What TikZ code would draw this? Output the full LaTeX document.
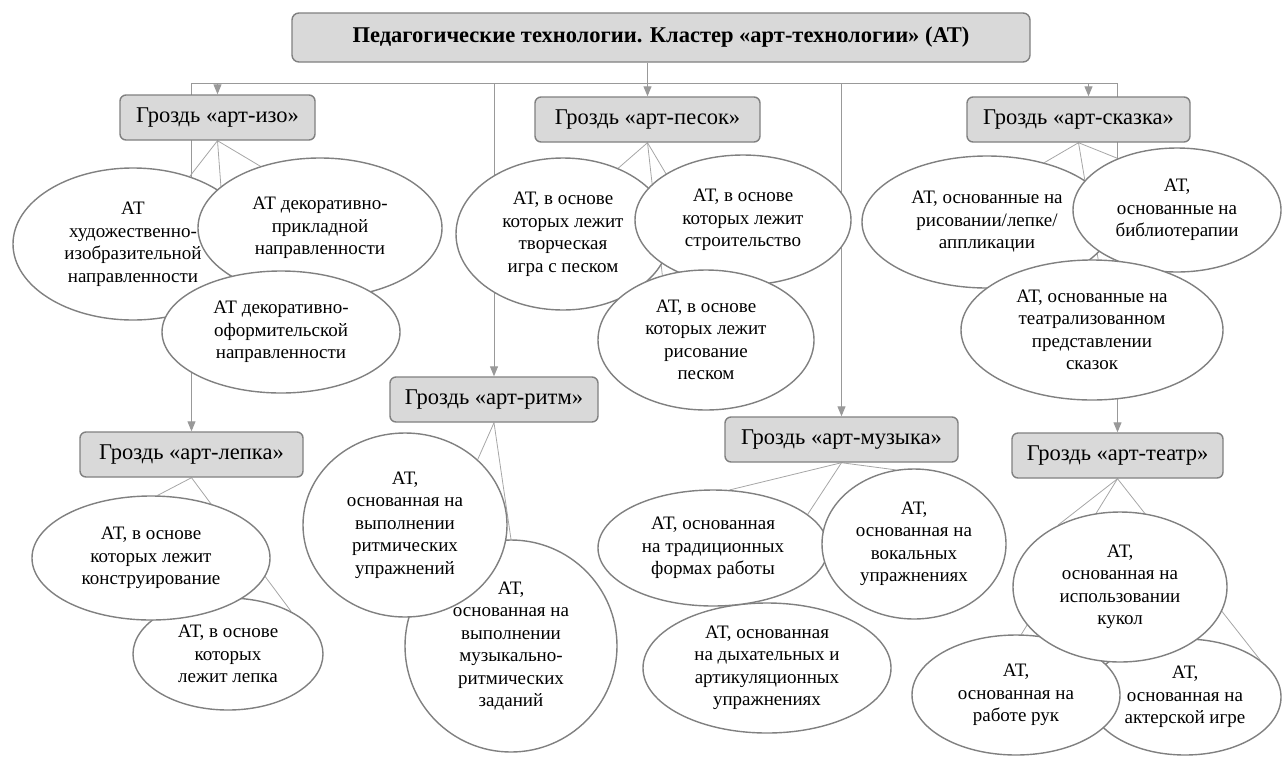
\documentclass[tikz,border=0pt]{standalone}
\usepackage{fontspec}
\setmainfont{Liberation Serif}
\usetikzlibrary{arrows.meta,calc,shapes.geometric}
\pgfdeclarelayer{bg}
\pgfsetlayers{bg,main}
\begin{document}
\begin{tikzpicture}[x=1pt,y=-1pt,
  lead/.style={draw=black!50,line width=1.4pt,fill=black!15,rounded corners=7pt,
    font=\fontsize{22.5}{26}\selectfont\bfseries,minimum height=49pt,inner sep=0pt},
  grozd/.style={draw=black!50,line width=1.4pt,fill=black!15,rounded corners=6pt,
    font=\fontsize{22.5}{26}\selectfont,minimum height=45pt,inner sep=0pt},
  oval/.style={ellipse,draw=black!50,line width=1.4pt,fill=white,inner sep=0pt,
    align=center,font=\fontsize{19}{22.5}\selectfont},
  link/.style={black!35,line width=.8pt},
  feed/.style={black!40,line width=1pt,-{Triangle[length=10pt,width=8pt]}}]
\useasboundingbox (0,0) rectangle (1282,756);
% headings
\node[lead,minimum width=738pt] (title) at (661,37.5) {Педагогические технологии. Кластер «арт-технологии» (АТ)};
\node[grozd,minimum width=195pt] (izo) at (217.5,117.5) {Гроздь «арт-изо»};
\node[grozd,minimum width=225pt] (pesok) at (647.5,119.5) {Гроздь «арт-песок»};
\node[grozd,minimum width=223pt] (skazka) at (1078.5,119.5) {Гроздь «арт-сказка»};
\node[grozd,minimum width=223pt] (lepka) at (191.5,454.5) {Гроздь «арт-лепка»};
\node[grozd,minimum width=208pt] (ritm) at (494,399.5) {Гроздь «арт-ритм»};
\node[grozd,minimum width=233pt] (muzyka) at (841.5,439.5) {Гроздь «арт-музыка»};
\node[grozd,minimum width=211pt] (teatr) at (1117.5,455.5) {Гроздь «арт-театр»};
% ovals, back to front
\foreach \n/\x/\y/\w/\h/\t in {
  e1/133/244/240/152/{АТ\\художественно-\\изобразительной\\направленности},
  e2/320/228/244/140/{АТ декоративно-\\прикладной\\направленности},
  e3/281/332/238/122/{АТ декоративно-\\оформительской\\направленности},
  e4/563/234/214/152/{АТ, в основе\\которых лежит\\творческая\\игра с песком},
  e5/743/220/216/130/{АТ, в основе\\которых лежит\\строительство},
  e6/706/340/216/140/{АТ, в основе\\которых лежит\\рисование\\песком},
  e7/987/222/250/132/{АТ, основанные на\\рисовании/лепке/\\аппликации},
  e8/1177/210/208/124/{АТ,\\основанные на\\библиотерапии},
  e9/1092/330/262/140/{АТ, основанные на\\театрализованном\\представлении\\сказок},
  e11/228/654/190/112/{АТ, в основе\\которых\\лежит лепка},
  e10/151/558/238/124/{АТ, в основе\\которых лежит\\конструирование},
  e13/511/646/212/212/{АТ,\\основанная на\\выполнении\\музыкально-\\ритмических\\заданий},
  e12/405/525/204/184/{АТ,\\основанная на\\выполнении\\ритмических\\упражнений},
  e16/767/668/248/130/{АТ, основанная\\на дыхательных и\\артикуляционных\\упражнениях},
  e14/713/548/230/116/{АТ, основанная\\на традиционных\\формах работы},
  e15/914/544/184/150/{АТ,\\основанная на\\вокальных\\упражнениях},
  e19/1185/697/192/116/{АТ,\\основанная на\\актерской игре},
  e18/1016/695/208/120/{АТ,\\основанная на\\работе рук},
  e17/1120/587/214/150/{АТ,\\основанная на\\использовании\\кукол}}{
  \node[oval,minimum width=\w pt,minimum height=\h pt] (\n) at (\x,\y) {\t};
}
% connectors behind everything
\begin{pgfonlayer}{bg}
\coordinate (bus) at (647,83);
\coordinate (skin) at ($(skazka.north)+(10,0)$);
\draw[black!40,line width=1pt] (lepka.north |- bus) -- (teatr.north |- bus);
\draw[feed] (title.south -| pesok.north) -- (pesok.north);
\draw[feed] (skin |- bus) -- (skin);
\foreach \g in {izo,lepka,ritm,muzyka,teatr}
  \draw[feed] (\g.north |- bus) -- (\g.north);
\foreach \a/\b in {izo/e1.50,izo/e2.134,izo/e3.134,
  pesok/e4.50,pesok/e5.149,pesok/e6.124,
  skazka/e7.46,skazka/e8.139,skazka/e9.85,
  lepka/e10.84,lepka/e11.34,ritm/e12.42,ritm/e13.90,
  muzyka/e14.74,muzyka/e15.104,muzyka/e16.105,
  teatr/e17.135,teatr/e18.85,teatr/e19.26}
  \draw[link] (\a.south) -- (\b);
\end{pgfonlayer}
\end{tikzpicture}
\end{document}
